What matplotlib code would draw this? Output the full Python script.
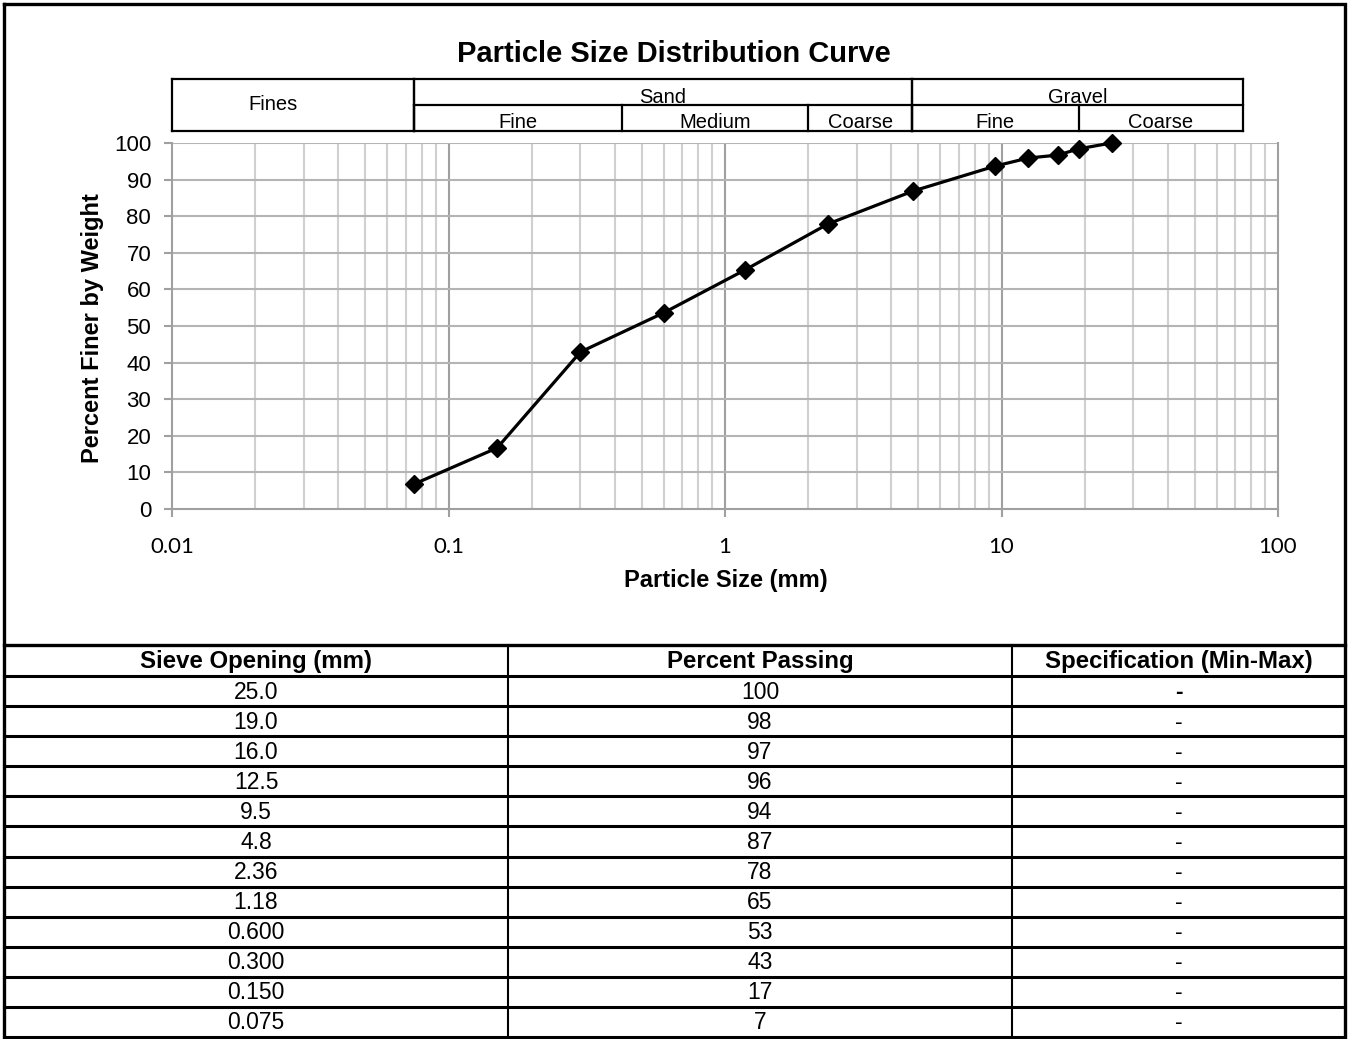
import matplotlib
matplotlib.use('Agg')
import matplotlib.pyplot as plt
from matplotlib.ticker import FixedLocator, NullFormatter
import numpy as np

plt.rcParams['font.family'] = ['Liberation Sans', 'DejaVu Sans']

# --- data ---
sieve_mm = [25.0, 19.0, 16.0, 12.5, 9.5, 4.8, 2.36, 1.18, 0.600, 0.300, 0.150, 0.075]
sieve_labels = ['25.0', '19.0', '16.0', '12.5', '9.5', '4.8', '2.36', '1.18',
                '0.600', '0.300', '0.150', '0.075']
passing_curve = [100, 98.4, 96.7, 95.9, 93.7, 86.9, 77.9, 65.3, 53.6, 42.9, 16.7, 6.8]
passing_table = ['100', '98', '97', '96', '94', '87', '78', '65', '53', '43', '17', '7']
spec_table = ['-'] * 12
table_headers = ['Sieve Opening (mm)', 'Percent Passing', 'Specification (Min-Max)']

# soil classification bands (mm)
main_bands = [('Fines', 0.01, 0.075), ('Sand', 0.075, 4.75), ('Gravel', 4.75, 75)]
sub_bands = [('Fine', 0.075, 0.425), ('Medium', 0.425, 2.0), ('Coarse', 2.0, 4.75),
             ('Fine', 4.75, 19), ('Coarse', 19, 75)]

W, H = 1348, 1039
fig = plt.figure(figsize=(W / 100, H / 100), dpi=100)


def fx(px):
    return px / W


def fy(py):
    return 1 - py / H


# --- main plot ---
ax = fig.add_axes([fx(172), fy(509), (1278 - 172) / W, (509 - 143) / H])
ax.set_xscale('log')
ax.set_xlim(0.01, 100)
ax.set_ylim(0, 100)

major_x = [0.01, 0.1, 1, 10, 100]
minor_x = [m * d for d in [0.01, 0.1, 1, 10] for m in range(2, 10)]
for xv in minor_x:
    ax.axvline(xv, color='#d0d0d0', lw=1.5, zorder=1)
for xv in major_x[1:-1]:
    ax.axvline(xv, color='#a0a0a0', lw=1.5, zorder=1)
for yv in range(10, 101, 10):
    ax.axhline(yv, color='#b4b4b4', lw=1.5, zorder=1)

ax.plot(sieve_mm, passing_curve, color='black', lw=2.3, marker='D',
        markersize=9, zorder=5, clip_on=False)

ax.spines['top'].set_visible(False)
for side in ['left', 'bottom', 'right']:
    ax.spines[side].set_color('#a0a0a0')
    ax.spines[side].set_linewidth(1.5)

ax.xaxis.set_major_locator(FixedLocator(major_x))
ax.xaxis.set_minor_locator(FixedLocator(minor_x))
ax.xaxis.set_minor_formatter(NullFormatter())
ax.set_xticklabels(['0.01', '0.1', '1', '10', '100'], fontsize=16,
                   family=['Lato', 'DejaVu Sans'])
ax.set_yticks(range(0, 101, 10))
ax.set_yticklabels([str(v) for v in range(0, 101, 10)], fontsize=16)
ax.tick_params(axis='x', which='major', length=6, width=1.5, color='#a0a0a0',
               pad=14, direction='out')
ax.tick_params(axis='x', which='minor', length=0)
ax.tick_params(axis='y', length=6, width=1.5, color='#a0a0a0', pad=9,
               direction='out')

fig.text(0.5, fy(54), 'Particle Size Distribution Curve', ha='center',
         va='center', fontsize=21, fontweight='bold')
fig.text(fx(726), fy(580), 'Particle Size (mm)', ha='center', va='center',
         fontsize=17, fontweight='bold')
fig.text(fx(93), fy(328), 'Percent Finer by Weight', ha='center', va='center',
         fontsize=17, fontweight='bold', rotation=90)

# --- classification band above the plot ---
band = fig.add_axes([fx(172), fy(131), (1278 - 172) / W, (131 - 79) / H])
band.set_xscale('log')
band.set_xlim(0.01, 100)
band.set_ylim(0, 2)
band.axis('off')
blw = 1.6
band.plot([0.01, 75], [2, 2], color='black', lw=blw, clip_on=False)
band.plot([0.01, 75], [0, 0], color='black', lw=blw, clip_on=False)
band.plot([0.075, 75], [1, 1], color='black', lw=blw, clip_on=False)
for name, lo, hi in main_bands:
    band.plot([lo, lo], [0, 2], color='black', lw=blw, clip_on=False)
    band.plot([hi, hi], [0, 2], color='black', lw=blw, clip_on=False)
    xc = np.sqrt(lo * hi)
    if name == 'Fines':
        band.text(xc * 0.85, 1.0, name, ha='center', va='center', fontsize=14.5)
    else:
        band.text(xc, 1.06, name, ha='center', va='baseline', fontsize=14.5)
for name, lo, hi in sub_bands:
    band.plot([lo, lo], [0, 1], color='black', lw=blw, clip_on=False)
    band.text(np.sqrt(lo * hi), 0.1, name, ha='center', va='baseline',
              fontsize=14.5)

# --- frame + table overlay (pixel coordinates) ---
ov = fig.add_axes([0, 0, 1, 1], zorder=-1)
ov.set_xlim(0, W)
ov.set_ylim(H, 0)
ov.axis('off')

# outer chart frame
ov.plot([4, 1345, 1345, 4, 4], [4, 4, 645, 645, 4], color='black', lw=2.4,
        solid_joinstyle='miter')

col_edges = [4, 508, 1012, 1345]
row_top = 645
header_h = 31
row_h = (1037 - row_top - header_h) / len(sieve_mm)
row_edges = [row_top + header_h + i * row_h for i in range(len(sieve_mm) + 1)]

for yv in row_edges:
    ov.plot([4, 1345], [yv, yv], color='black', lw=2.2)
for xv in col_edges:
    lw = 2.4 if xv in (4, 1345) else 1.5
    ov.plot([xv, xv], [row_top, row_edges[-1]], color='black', lw=lw)

for j, head in enumerate(table_headers):
    xc = (col_edges[j] + col_edges[j + 1]) / 2
    ov.text(xc, row_top + header_h / 2 + 1, head, ha='center', va='center',
            fontsize=17.3, fontweight='bold')

for i in range(len(sieve_mm)):
    yc = row_edges[i] + row_h / 2 + 1
    cells = [sieve_labels[i], passing_table[i], spec_table[i]]
    for j, val in enumerate(cells):
        xc = (col_edges[j] + col_edges[j + 1]) / 2
        fw = 'bold' if (i == 0 and j == 2) else 'normal'
        ov.text(xc, yc, val, ha='center', va='center', fontsize=16.5,
                fontweight=fw)

fig.savefig('out.png', dpi=100)
